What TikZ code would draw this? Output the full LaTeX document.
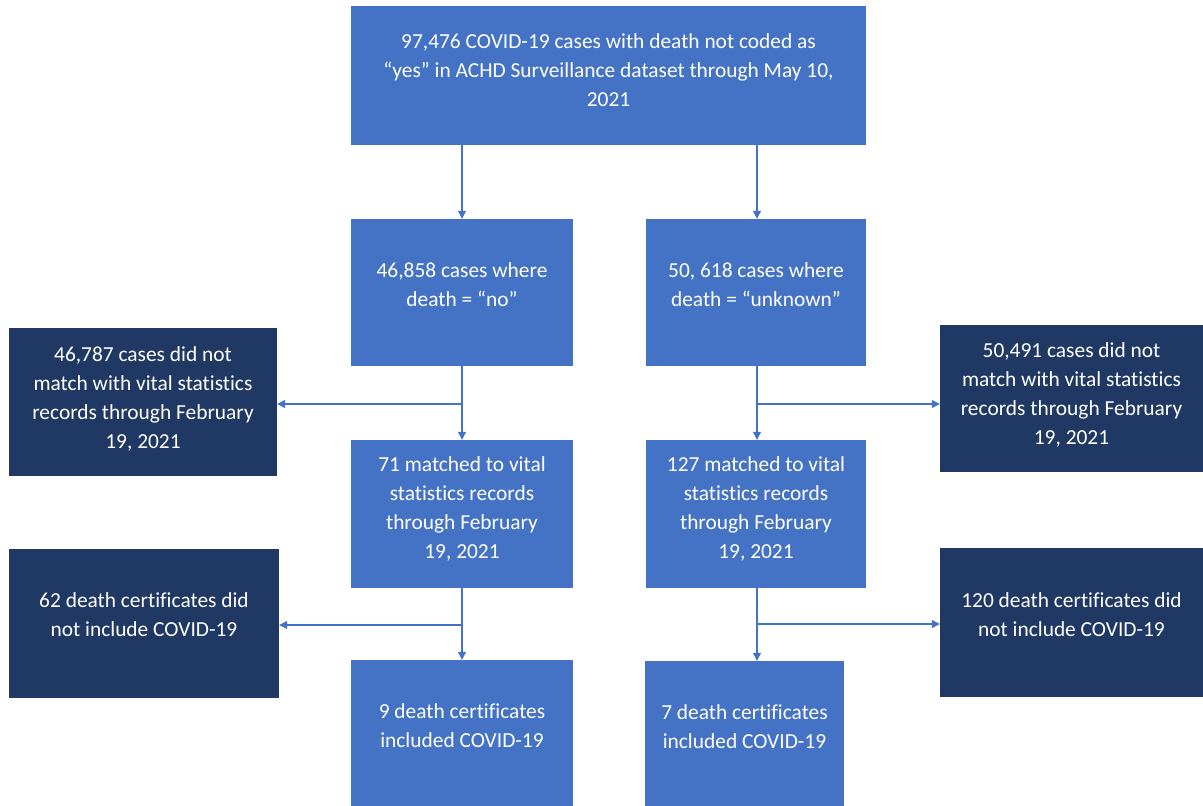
\documentclass[tikz,border=0pt]{standalone}
\usepackage{fontspec}
\setmainfont{Carlito}[Ligatures=NoCommon]
\usetikzlibrary{arrows.meta}
\definecolor{boxblue}{HTML}{4472C4}
\definecolor{boxdark}{HTML}{203864}
\definecolor{arrowblue}{HTML}{4472C4}
\tikzset{
  base/.style={rectangle, inner sep=0pt},
  bluebox/.style={base, fill=boxblue},
  darkbox/.style={base, fill=boxdark},
  txt/.style={inner sep=0pt, text=white, align=center,
    font=\fontsize{21.4}{29}\selectfont},
  arr/.style={draw=arrowblue, line width=1.1pt, -{Triangle[width=8pt,length=8pt]}}
}
\begin{document}
\begin{tikzpicture}[x=1pt,y=-1pt]
\clip (0,0) rectangle (1203,806);
\fill[white] (0,0) rectangle (1203,806);
% top
\node[bluebox, minimum width=515pt, minimum height=139pt] (top) at (608.5,75.5) {};
\node[txt] (topT) at ([yshift=5pt]top.center)
  {97,476 COVID-19 cases with death not coded as\\``yes'' in ACHD Surveillance dataset through May 10,\\2021};
% middle
\node[bluebox, minimum width=222pt, minimum height=147pt] (lm) at (462,292.5) {};
\node[txt] (lmT) at ([yshift=8pt]lm.center) {46,858 cases where\\death = ``no''};
\node[bluebox, minimum width=220pt, minimum height=147pt] (rm) at (756,292.5) {};
\node[txt] (rmT) at ([yshift=8pt]rm.center) {50, 618 cases where\\death = ``unknown''};
% side dark
\node[darkbox, minimum width=268pt, minimum height=148pt] (ld) at (143,402) {};
\node[txt] (ldT) at ([yshift=3.5pt]ld.center)
  {46,787 cases did not\\match with vital statistics\\records through February\\19, 2021};
\node[darkbox, minimum width=263pt, minimum height=147pt] (rd) at (1071.5,398.5) {};
\node[txt] (rdT) at ([yshift=4pt]rd.center)
  {50,491 cases did not\\match with vital statistics\\records through February\\19, 2021};
% matched
\node[bluebox, minimum width=222pt, minimum height=148pt] (m71) at (462,514) {};
\node[txt] (m71T) at ([yshift=5pt]m71.center)
  {71 matched to vital\\statistics records\\through February\\19, 2021};
\node[bluebox, minimum width=220pt, minimum height=148pt] (m127) at (756,514) {};
\node[txt] (m127T) at ([yshift=5pt]m127.center)
  {127 matched to vital\\statistics records\\through February\\19, 2021};
% side dark lower
\node[darkbox, minimum width=270pt, minimum height=149pt] (ld2) at (144,623.5) {};
\node[txt] (ld2T) at ([yshift=9pt]ld2.center) {62 death certificates did\\not include COVID-19};
\node[darkbox, minimum width=263pt, minimum height=149pt] (rd2) at (1071.5,622.5) {};
\node[txt] (rd2T) at ([yshift=8pt]rd2.center) {120 death certificates did\\not include COVID-19};
% bottom
\node[bluebox, minimum width=222pt, minimum height=148pt] (b9) at (462,734) {};
\node[txt] (b9T) at ([yshift=8pt]b9.center) {9 death certificates\\included COVID-19};
\node[bluebox, minimum width=199pt, minimum height=148pt] (b7) at (744.5,735) {};
\node[txt] (b7T) at ([yshift=8pt]b7.center) {7 death certificates\\included COVID-19};
% connectors
\coordinate (c1) at (462,404);
\coordinate (c2) at (757,404);
\coordinate (c3) at (462,625);
\coordinate (c4) at (757,624);
\draw[arr] (top.south -| lm.north) -- (lm.north);
\draw[arr] (top.south -| c2) -- (rm.north -| c2);
\draw[arr] (lm.south) -- (m71.north);
\draw[arr] (c1) -- (ld.east |- c1);
\draw[arr] (rm.south -| c2) -- (m127.north -| c2);
\draw[arr] (c2) -- (rd.west |- c2);
\draw[arr] (m71.south) -- (b9.north);
\draw[arr] (c3) -- (ld2.east |- c3);
\draw[arr] (m127.south -| c4) -- (b7.north -| c4);
\draw[arr] (c4) -- (rd2.west |- c4);
\end{tikzpicture}
\end{document}
